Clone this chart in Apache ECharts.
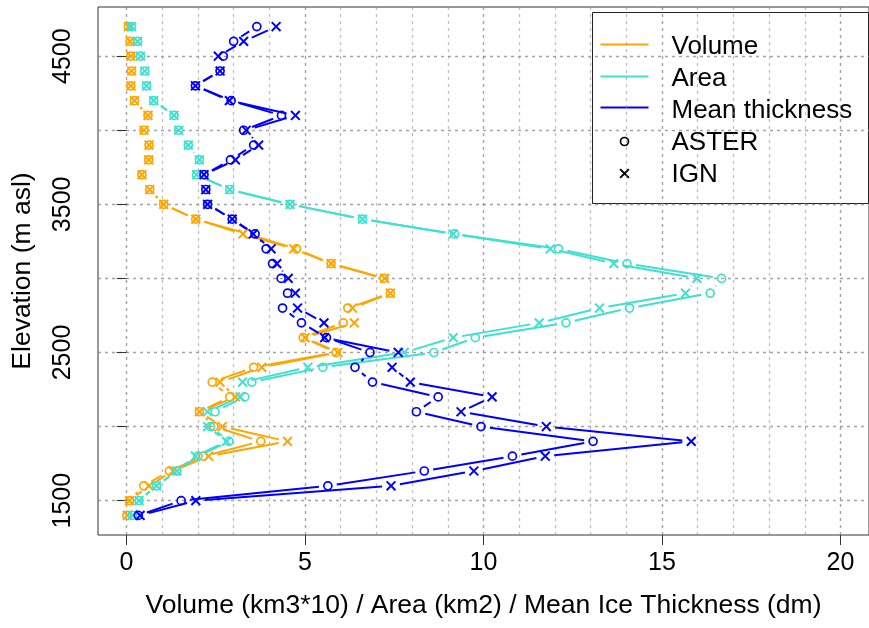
<!DOCTYPE html>
<html><head><meta charset="utf-8">
<script src="https://cdn.jsdelivr.net/npm/echarts@6/dist/echarts.min.js"></script>
<style>html,body{margin:0;padding:0;background:#fff}#c{width:869px;height:628px}</style>
</head><body><div id="c"></div>
<script>
// Elevation bands (m asl), bottom to top
const elevation = [1400,1500,1600,1700,1800,1900,2000,2100,2200,2300,2400,2500,2600,2700,2800,2900,3000,3100,3200,3300,3400,3500,3600,3700,3800,3900,4000,4100,4200,4300,4400,4500,4600,4700];
// Volume (km3*10)
const volumeASTER = [0.01,0.08,0.48,1.20,2.15,3.76,2.45,2.04,2.89,2.40,3.56,5.87,4.95,6.07,6.20,7.39,7.21,5.73,4.76,3.40,1.94,1.04,0.65,0.43,0.62,0.63,0.49,0.60,0.22,0.12,0.14,0.12,0.10,0.05];
const volumeIGN   = [0.02,0.08,0.63,1.30,2.30,4.51,2.68,2.04,3.05,2.62,3.79,5.92,5.00,6.38,6.33,7.39,7.23,5.73,4.68,3.26,1.94,1.04,0.65,0.43,0.62,0.63,0.49,0.60,0.22,0.12,0.14,0.12,0.10,0.05];
// Area (km2)
const areaASTER = [0.17,0.35,0.84,1.41,2.00,2.87,2.35,2.48,3.31,3.51,5.50,8.61,9.77,12.31,14.09,16.35,16.67,14.02,12.10,9.19,6.61,4.58,2.89,1.96,2.04,1.73,1.46,1.33,0.76,0.56,0.51,0.39,0.31,0.14];
const areaIGN   = [0.17,0.35,0.84,1.41,1.93,2.80,2.27,2.27,3.18,3.25,5.08,7.78,9.15,11.56,13.25,15.66,15.98,13.65,11.87,9.15,6.61,4.58,2.89,1.96,2.04,1.73,1.46,1.33,0.76,0.56,0.51,0.39,0.31,0.14];
// Mean ice thickness (dm)
const thickASTER = [0.33,1.53,5.64,8.34,10.81,13.07,9.93,8.12,8.73,6.89,6.40,6.82,5.60,4.90,4.37,4.51,4.33,4.09,3.91,3.60,2.96,2.27,2.22,2.17,2.91,3.56,3.28,4.34,2.93,1.93,2.62,2.71,3.00,3.65];
const thickIGN   = [0.38,1.94,7.41,9.73,11.73,15.82,11.76,9.37,10.24,7.95,7.44,7.61,5.55,5.53,4.79,4.73,4.53,4.21,4.05,3.55,2.96,2.27,2.22,2.17,3.05,3.70,3.35,4.73,2.88,1.93,2.62,2.57,3.28,4.19];
// Axis ticks / labels
const xGridValues = [0,1,2,3,4,5,6,7,8,9,10,11,12,13,14,15,16,17,18,19,20];
const xTickValues = [0,5,10,15,20];
const yTickValues = [1500,2000,2500,3000,3500,4000,4500];
const yLabelValues = [1500,2500,3500,4500];
const legendLines = ['Volume','Area','Mean thickness'];
const legendSymbols = ['ASTER','IGN'];

const FONT = 'Liberation Sans';
const C_VOL = '#FFA500', C_AREA = '#40E0D0', C_THK = '#0000FF';

function makeSeries(name, values, color, marker) {
  const data = values.map((v, i) => [v, elevation[i]]);
  const GAP = 9;
  return {
    type: 'custom', name: name, xAxisIndex: 0, yAxisIndex: 0,
    data: data, encode: {x: 0, y: 1}, silent: true, clip: false,
    renderItem: function (params, api) {
      const i = params.dataIndex;
      const p = api.coord([api.value(0), api.value(1)]);
      const children = [];
      if (i + 1 < data.length) {
        const q = api.coord(data[i + 1]);
        const dx = q[0] - p[0], dy = q[1] - p[1];
        const len = Math.sqrt(dx * dx + dy * dy);
        if (len > 2 * GAP) {
          const ux = dx / len, uy = dy / len;
          children.push({type: 'line', shape: {x1: p[0] + ux * GAP, y1: p[1] + uy * GAP, x2: q[0] - ux * GAP, y2: q[1] - uy * GAP},
            style: {stroke: color, lineWidth: 2}});
        }
      }
      if (marker === 'o') {
        children.push({type: 'circle', shape: {cx: p[0], cy: p[1], r: 4}, style: {fill: null, stroke: color, lineWidth: 1.7}});
      } else {
        const s = 4.4;
        children.push({type: 'line', shape: {x1: p[0] - s, y1: p[1] - s, x2: p[0] + s, y2: p[1] + s}, style: {stroke: color, lineWidth: 2}});
        children.push({type: 'line', shape: {x1: p[0] - s, y1: p[1] + s, x2: p[0] + s, y2: p[1] - s}, style: {stroke: color, lineWidth: 2}});
      }
      return {type: 'group', children: children};
    }
  };
}

const gridDash = {type: [3, 4], width: 1.3};
const LFONT = '26px "' + FONT + '"';

const legendX = 592, legendY = 12;
const legendGraphic = {
  type: 'group', left: legendX, top: legendY, z: 100,
  children: [
    {type: 'rect', shape: {x: 0, y: 0, width: 276, height: 191}, style: {fill: '#fff', stroke: '#222', lineWidth: 1}},
    {type: 'line', shape: {x1: 8, y1: 32, x2: 56, y2: 32}, style: {stroke: C_VOL, lineWidth: 2}},
    {type: 'line', shape: {x1: 8, y1: 64, x2: 56, y2: 64}, style: {stroke: C_AREA, lineWidth: 2}},
    {type: 'line', shape: {x1: 8, y1: 95, x2: 56, y2: 95}, style: {stroke: C_THK, lineWidth: 2}},
    {type: 'circle', shape: {cx: 32, cy: 129, r: 4}, style: {fill: null, stroke: '#000', lineWidth: 1.7}},
    {type: 'line', shape: {x1: 27.6, y1: 156.6, x2: 36.4, y2: 165.4}, style: {stroke: '#000', lineWidth: 2}},
    {type: 'line', shape: {x1: 27.6, y1: 165.4, x2: 36.4, y2: 156.6}, style: {stroke: '#000', lineWidth: 2}},
    {type: 'text', x: 79, y: 34, style: {text: legendLines[0], font: LFONT, fill: '#000', verticalAlign: 'middle'}},
    {type: 'text', x: 79, y: 66, style: {text: legendLines[1], font: LFONT, fill: '#000', verticalAlign: 'middle'}},
    {type: 'text', x: 79, y: 98, style: {text: legendLines[2], font: LFONT, fill: '#000', verticalAlign: 'middle'}},
    {type: 'text', x: 79, y: 130, style: {text: legendSymbols[0], font: LFONT, fill: '#000', verticalAlign: 'middle'}},
    {type: 'text', x: 79, y: 162, style: {text: legendSymbols[1], font: LFONT, fill: '#000', verticalAlign: 'middle'}}
  ]
};

const chart = echarts.init(document.getElementById('c'), null, {renderer: 'canvas'});
chart.setOption({
  animation: false,
  backgroundColor: '#fff',
  textStyle: {fontFamily: FONT},
  grid: {left: 98, top: 7, width: 780, height: 528, show: true, borderColor: '#333', borderWidth: 1, backgroundColor: 'transparent', containLabel: false},
  xAxis: [
    {type: 'value', min: -0.8, max: 20.8, position: 'bottom',
     axisLine: {show: false}, axisLabel: {show: false},
     axisTick: {show: false, customValues: xGridValues},
     splitLine: {show: true, lineStyle: Object.assign({color: 'rgba(140,140,140,0.55)'}, gridDash)}},
    {type: 'value', min: -0.8, max: 20.8, position: 'bottom', offset: 0,
     axisLine: {show: false},
     axisTick: {show: true, customValues: xTickValues, length: 10, lineStyle: {color: '#333', width: 1}},
     axisLabel: {show: true, customValues: xTickValues, fontSize: 25, color: '#000', margin: 16, fontFamily: FONT,
                 formatter: v => String(v)},
     splitLine: {show: true, lineStyle: Object.assign({color: 'rgba(140,140,140,0.55)'}, gridDash)},
     name: 'Volume (km3*10) / Area (km2) / Mean Ice Thickness (dm)', nameLocation: 'middle', nameGap: 57,
     nameTextStyle: {fontSize: 26.5, color: '#000', fontFamily: FONT}}
  ],
  yAxis: [
    {type: 'value', min: 1268, max: 4832, position: 'left',
     axisLine: {show: false},
     axisTick: {show: true, customValues: yTickValues, length: 10, lineStyle: {color: '#333', width: 1}},
     axisLabel: {show: true, customValues: yLabelValues, rotate: 90, fontSize: 25, color: '#000', margin: 22, fontFamily: FONT,
                 formatter: v => String(v)},
     splitLine: {show: true, lineStyle: Object.assign({color: 'rgba(140,140,140,0.8)'}, gridDash)},
     name: 'Elevation (m asl)', nameLocation: 'middle', nameGap: 62,
     nameTextStyle: {fontSize: 26.5, color: '#000', fontFamily: FONT}}
  ],
  series: [
    makeSeries('Volume ASTER', volumeASTER, C_VOL, 'o'),
    makeSeries('Volume IGN', volumeIGN, C_VOL, 'x'),
    makeSeries('Area ASTER', areaASTER, C_AREA, 'o'),
    makeSeries('Area IGN', areaIGN, C_AREA, 'x'),
    makeSeries('Mean thickness ASTER', thickASTER, C_THK, 'o'),
    makeSeries('Mean thickness IGN', thickIGN, C_THK, 'x')
  ],
  graphic: [legendGraphic]
});
</script></body></html>
